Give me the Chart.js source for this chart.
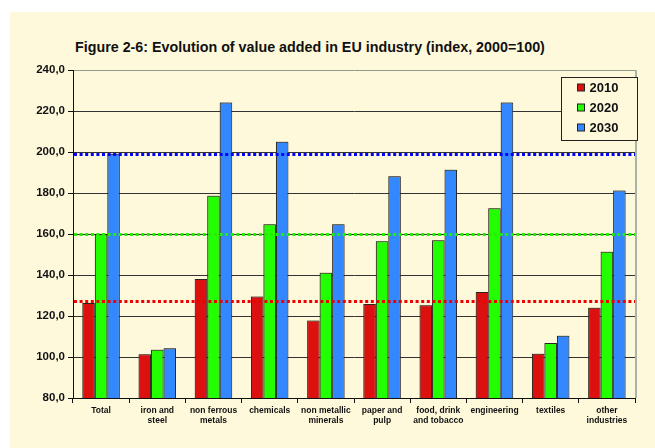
<!DOCTYPE html>
<html>
<head>
<meta charset="utf-8">
<script src="https://cdn.jsdelivr.net/npm/chart.js@4.4.1/dist/chart.umd.min.js"></script>
<style>
  html, body { margin:0; padding:0; background:#fff; }
  #frame { position:absolute; left:10px; top:12px; width:645px; height:436px; background:#FFF9DC; }
  #title { position:absolute; left:65px; top:26px; font-family:"Liberation Sans", Arial, sans-serif;
           font-weight:bold; font-size:15px; color:#111; white-space:nowrap;
           transform:scaleX(0.953); transform-origin:0 50%; }
  canvas { position:absolute; left:0; top:0; }
</style>
</head>
<body>
<div id="frame">
  <div id="title">Figure 2-6: Evolution of value added in EU industry (index, 2000=100)</div>
  <canvas id="c" width="645" height="436"></canvas>
</div>
<script>
// --- datos ---
const categories = [
  'Total', ['iron and','steel'], ['non ferrous','metals'], 'chemicals', ['non metallic','minerals'],
  ['paper and','pulp'], ['food, drink','and tobacco'], 'engineering', 'textiles', ['other','industries']
];
const years = ['2010', '2020', '2030'];
const v2010 = [126.3, 101.4, 138.1, 129.5, 117.8, 125.8, 125.3, 131.7, 101.6, 124.0];
const v2020 = [159.9, 103.5, 178.7, 164.8, 141.1, 156.5, 157.0, 172.6, 106.8, 151.4];
const v2030 = [199.2, 104.3, 224.2, 205.0, 164.8, 188.2, 191.4, 224.2, 110.4, 181.2];
const refValues = [127.3, 159.9, 199.0]; // lineas punteadas (Total por año)

const barColors = ['#DD1010', '#22FF00', '#3388FF'];
const refColors = ['#EE0000', '#22EE00', '#0000FF'];
const BG = '#FFF9DC';

// sombra suave bajo las barras
const shadowPlugin = {
  id:'barShadow',
  beforeDatasetsDraw(chart){
    const ctx = chart.ctx;
    ctx.save();
    ctx.shadowColor = 'rgba(60,50,20,0.45)';
    ctx.shadowBlur = 2;
    ctx.shadowOffsetX = -1;
    ctx.shadowOffsetY = -1;
  },
  afterDatasetsDraw(chart){ chart.ctx.restore(); }
};

// lineas de referencia + borde derecho + leyenda
const overlayPlugin = {
  id:'overlay',
  afterDatasetsDraw(chart){
    const ctx = chart.ctx, a = chart.chartArea, y = chart.scales.y;
    // borde derecho gris
    ctx.save();
    ctx.strokeStyle = '#A9B4A6'; ctx.lineWidth = 2;
    ctx.beginPath(); ctx.moveTo(a.right + 1, a.top); ctx.lineTo(a.right + 1, a.bottom); ctx.stroke();
    // punteadas
    ctx.lineWidth = 3; ctx.setLineDash([3, 2.6]);
    refValues.forEach((v, i) => {
      const py = Math.round(y.getPixelForValue(v)) + 0.5;
      ctx.strokeStyle = refColors[i];
      ctx.beginPath(); ctx.moveTo(a.left + 1, py); ctx.lineTo(a.right, py); ctx.stroke();
    });
    ctx.setLineDash([]);
    // leyenda
    const bx = a.right - 73.5, by = a.top + 7.5, bw = 76, bh = 63;
    ctx.fillStyle = BG; ctx.fillRect(bx, by, bw, bh);
    ctx.strokeStyle = '#222'; ctx.lineWidth = 1; ctx.strokeRect(bx, by, bw, bh);
    ctx.font = 'bold 13px "Liberation Sans", Arial, sans-serif';
    ctx.textBaseline = 'middle';
    chart.data.datasets.forEach((ds, i) => {
      const cy = by + 10 + i * 20;
      ctx.fillStyle = ds.backgroundColor;
      ctx.fillRect(bx + 16, cy - 3.5, 7, 7);
      ctx.strokeStyle = '#222'; ctx.strokeRect(bx + 16, cy - 3.5, 7, 7);
      ctx.fillStyle = '#111';
      ctx.fillText(ds.label, bx + 28, cy + 0.5);
    });
    ctx.restore();
  }
};

const datasets = [v2010, v2020, v2030].map((vals, i) => ({
  label: years[i], data: vals, backgroundColor: barColors[i],
  borderColor:'#222', borderWidth:1, barPercentage:1, categoryPercentage:0.667
}));

new Chart(document.getElementById('c'), {
  type:'bar',
  data:{ labels:categories, datasets },
  options:{
    responsive:false, animation:false, devicePixelRatio:1,
    layout:{ padding:{ top:58, right:20, bottom:0, left:0 } },
    plugins:{ legend:{ display:false }, tooltip:{ enabled:false } },
    scales:{
      y:{
        min:80, max:240,
        ticks:{ stepSize:20, padding:3, color:'#111',
          font:{ family:'"Liberation Sans", Arial, sans-serif', size:11.5, weight:'bold' },
          callback:(v)=> v.toFixed(1).replace('.', ',') },
        grid:{ color:(c)=> c.tick && c.tick.value === 240 ? '#8E9A8C' : '#333', lineWidth:1, tickLength:5, tickColor:'#111' },
        border:{ color:'#111', width:1 },
        afterFit:(s)=>{ s.width = 63; }
      },
      x:{
        ticks:{ padding:2, color:'#111', maxRotation:0, autoSkip:false,
          font:{ family:'"Liberation Sans", Arial, sans-serif', size:8.5, weight:'bold', lineHeight:1.25 } },
        grid:{ drawOnChartArea:false, tickLength:5, tickColor:'#111' },
        border:{ color:'#111', width:1 },
        afterFit:(s)=>{ s.height = 50; }
      }
    }
  },
  plugins:[shadowPlugin, overlayPlugin]
});
</script>
</body>
</html>
